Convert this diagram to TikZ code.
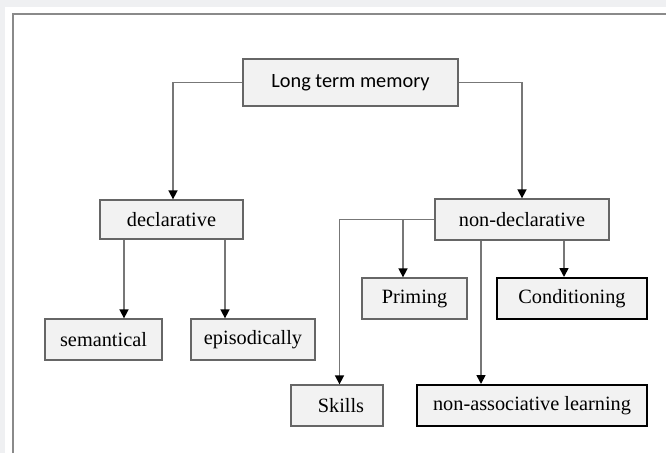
\documentclass[tikz,border=0pt]{standalone}
\usepackage{fontspec}
\setmainfont{Liberation Serif}
\newfontfamily\calibrifont{Carlito}
\usetikzlibrary{arrows.meta}
\definecolor{bgc}{HTML}{EFF0F2}
\definecolor{boxfill}{HTML}{F2F2F2}
\definecolor{boxline}{HTML}{666666}
\definecolor{linec}{HTML}{777777}
\definecolor{framec}{HTML}{8A8A8A}
\tikzset{
  box/.style={draw=boxline, fill=boxfill, line width=1.3pt, inner sep=0pt,
    font=\fontsize{20.3}{24}\selectfont},
  boldbox/.style={box, draw=black, line width=2pt},
  conn/.style={draw=linec, line width=1.6pt},
  arr/.style={conn, -{Triangle[length=9pt,width=9pt,color=black,fill=black]}},
}
\begin{document}
\begin{tikzpicture}[x=1pt,y=-1pt]
\useasboundingbox (0,0) rectangle (666,453);
\fill[bgc] (0,0) rectangle (666,453);
\fill[white] (5,7) rectangle (666,453);
\draw[framec, line width=2.2pt] (13,453) -- (13,14) -- (666,14);

\node[box, minimum width=215pt, minimum height=47pt, font=\calibrifont\fontsize{20.3}{24}\selectfont] (ltm) at (350.5,82.5) {Long term memory};
\node[box, minimum width=143pt, minimum height=39pt] (decl) at (171.5,219.5) {declarative};
\node[box, minimum width=117pt, minimum height=41pt] (sem) at (103.5,339.5) {semantical};
\node[box, minimum width=124pt, minimum height=41pt] (epi) at (253,339.5) {episodically};
\node[box, minimum width=174pt, minimum height=41pt] (nondecl) at (522,219.5) {non-declarative};
\node[box, minimum width=105pt, minimum height=41pt] (prim) at (414.5,298.5) {Priming};
\node[boldbox, minimum width=150pt, minimum height=41pt] (cond) at (572,298.5) {Conditioning};
\node[box, minimum width=92pt, minimum height=41pt] (skills) at (337,405.5) {\hspace{8pt}Skills};
\node[boldbox, minimum width=230pt, minimum height=41pt] (nonassoc) at (532,405.5) {non-associative learning};

% from long term memory
\coordinate (dtop) at ([xshift=1.5pt]decl.north);
\draw[arr] (ltm.west) -| (dtop);
\draw[arr] (ltm.east) -| (nondecl.north);

% declarative children
\coordinate (d1) at ([xshift=-47.5pt]decl.south);
\coordinate (d2) at ([xshift=53.5pt]decl.south);
\draw[arr] (d1) -- (d1 |- sem.north);
\draw[arr] (d2) -- (d2 |- epi.north);

% non-declarative children
\coordinate (sktop) at ([xshift=2.5pt]skills.north);
\draw[arr] (nondecl.west) -| (sktop);
\coordinate (pb) at (403,219.5);
\draw[arr] (pb) -- (pb |- prim.north);
\coordinate (n1) at ([xshift=-41pt]nondecl.south);
\coordinate (n2) at ([xshift=42pt]nondecl.south);
\draw[arr] (n1) -- (n1 |- nonassoc.north);
\draw[arr] (n2) -- (n2 |- cond.north);
\end{tikzpicture}
\end{document}
